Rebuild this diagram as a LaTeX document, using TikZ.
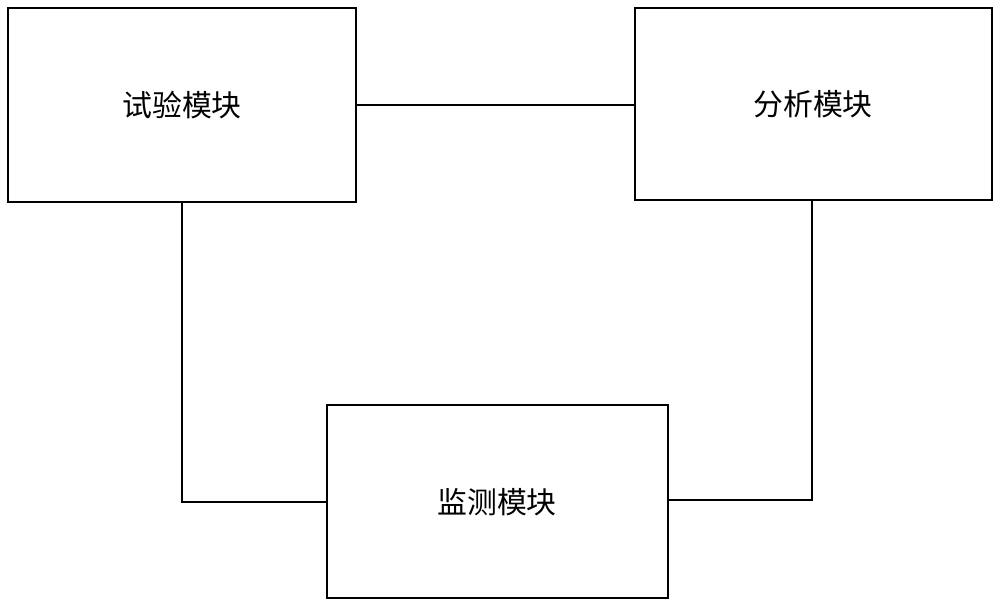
\documentclass[tikz,border=0pt]{standalone}
\usepackage{fontspec}
\newfontfamily\cjk{Noto Sans CJK SC}
\begin{document}
\begin{tikzpicture}[x=0.02cm,y=-0.02cm,
  box/.style={draw,line width=1.5pt,font=\cjk\fontsize{17}{20}\selectfont},
  conn/.style={line width=1.5pt}]
\useasboundingbox (0,0) rectangle (1000,609);
\draw[box] (8,8) rectangle (356,202);
\node[font=\cjk\fontsize{17}{20}\selectfont] (a) at (182,105) {试验模块};
\draw[box] (635,8) rectangle (992,200);
\node[font=\cjk\fontsize{17}{20}\selectfont] (b) at (813,104) {分析模块};
\draw[box] (327,405) rectangle (668,598);
\node[font=\cjk\fontsize{17}{20}\selectfont] (c) at (497,502) {监测模块};
\coordinate (ar) at (356,105);
\coordinate (bl) at (635,105);
\coordinate (ab) at (182,202);
\coordinate (cl) at (327,502);
\coordinate (bb) at (812,200);
\coordinate (cr) at (668,500);
\draw[conn] (ar) -- (bl);
\draw[conn] (ab) |- (cl);
\draw[conn] (bb) |- (cr);
\end{tikzpicture}
\end{document}
